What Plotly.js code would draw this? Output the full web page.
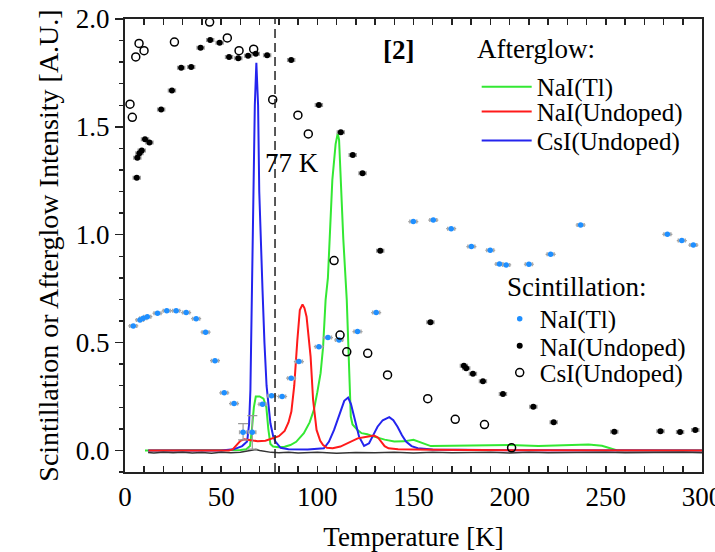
<!DOCTYPE html>
<html>
<head>
<meta charset="utf-8">
<script src="https://cdn.plot.ly/plotly-3.0.1.min.js"></script>
<style>html,body{margin:0;padding:0;background:#fff;}#plot{width:715px;height:552px;}</style>
</head>
<body>
<div id="plot"></div>
<script>
// ---- Afterglow curves ----
var glowNaITlT = [10.4,30,50,60,63,65,66,67,68,70,72,73.5,74.5,75.6,77,80,83,86,89,93,96,98.2,100,101.7,103,104.3,105.5,107.8,109.5,110.6,111.3,112.2,113.5,115.3,116.5,117.4,118.3,120.9,123,126,129.5,135,140,145,150,154,159,170,180,200,215,230,241,248,253,256,270,300];
var glowNaITlV = [0,0,0,0.002,0.005,0.02,0.1,0.2,0.25,0.25,0.24,0.2,0.1,0.03,0.018,0.015,0.017,0.025,0.04,0.08,0.13,0.188,0.27,0.358,0.48,0.698,0.8,1.254,1.42,1.47,1.44,1.254,0.98,0.698,0.435,0.157,0.12,0.095,0.08,0.075,0.064,0.05,0.041,0.042,0.049,0.035,0.02,0.022,0.022,0.025,0.02,0.024,0.027,0.022,0.008,0,0,0];

var glowNaIUT = [12.2,54,56,58,60,62,65,69,73,77,80,83,85,86.5,88,89.6,90.9,92.3,93.3,94.4,96.5,97.8,99.6,101.5,103,105,108,112,115.6,119,121,125,129.5,131.5,133,135,137,142,160,200,300];
var glowNaIUV = [0,0,0.005,0.025,0.045,0.052,0.048,0.043,0.045,0.055,0.066,0.09,0.13,0.18,0.3,0.51,0.651,0.677,0.66,0.62,0.435,0.234,0.095,0.045,0.025,0.012,0.01,0.018,0.033,0.05,0.056,0.062,0.069,0.06,0.041,0.02,0.01,0.005,0.003,0.001,0];

var glowCsIT = [12,50,56.5,60.9,63.5,64.5,65.2,66.1,66.7,67.5,68.3,69.2,69.8,70.6,71.5,72.5,73.6,75.6,77.1,78.2,80.9,85,95,103.4,106,108.7,112.2,114,116,117.5,119.1,121.7,124.3,126.9,129,131.3,134,137.4,139.5,141.7,144,146.1,149,152.2,160,200,300];
var glowCsIV = [0,0,0.005,0.02,0.041,0.12,0.28,0.744,1.2,1.6,1.797,1.6,1.2,0.95,0.744,0.5,0.3,0.126,0.064,0.041,0.012,0.006,0.004,0.01,0.04,0.095,0.188,0.23,0.245,0.215,0.157,0.064,0.021,0.033,0.07,0.11,0.14,0.154,0.14,0.11,0.07,0.041,0.02,0.01,0.004,0.001,0];

var baseT = [12,15,20,25,30,35,40,45,50,55,60,63,66,68,70,73,76,80,85,90,95,100,110,120,130,140,150,160,170,180,190,200,210,220,230,240,250,260,270,280,290,300];
var baseV = [-0.010,-0.012,-0.009,-0.011,-0.008,-0.012,-0.010,-0.013,-0.009,-0.011,-0.008,-0.004,0.002,0.004,0.0,-0.006,-0.009,-0.011,-0.008,-0.012,-0.010,-0.009,-0.013,-0.010,-0.011,-0.008,-0.012,-0.009,-0.011,-0.010,-0.008,-0.012,-0.009,-0.011,-0.010,-0.012,-0.009,-0.011,-0.010,-0.012,-0.009,-0.011];

// ---- Scintillation points ----
var sciNaITlT = [4.3,7.8,9.5,11.6,16.9,21.7,26.6,31.8,37.0,41.9,46.8,51.6,56.7,61.4,66.2,71.5,76.2,81.7,86.4,90.4,100.8,105.5,111.3,120.9,130.6,149.9,160.3,169.6,180.1,189.9,194.7,198.2,210.0,221.3,236.9,282.0,289.5,295.5];
var sciNaITlV = [0.577,0.605,0.613,0.620,0.636,0.647,0.648,0.639,0.611,0.548,0.416,0.267,0.217,0.084,0.084,0.214,0.253,0.250,0.335,0.412,0.481,0.523,0.512,0.551,0.639,1.061,1.068,1.028,0.945,0.928,0.864,0.860,0.863,0.909,1.045,1.002,0.973,0.952];
var sciNaITlErrUp = [0,0,0,0,0,0,0,0,0,0,0,0,0,0.04,0.077,0,0,0,0,0,0,0,0,0,0,0,0,0,0,0,0,0,0,0,0,0,0,0];
var sciNaITlErrDn = [0,0,0,0,0,0,0,0,0,0,0,0,0,0.035,0.078,0,0,0,0,0,0,0,0,0,0,0,0,0,0,0,0,0,0,0,0,0,0,0];

var sciNaIUT = [6.1,6.4,7.5,8.7,10.4,12.7,18.8,24.4,29.2,34.4,39.3,44.3,49.2,54.1,58.9,64.0,68.0,73.9,86.4,100.8,112.2,118.4,123.5,132.7,158.8,176.2,177.4,180.9,186.1,196.5,212.3,222.9,254.4,278.4,288.6,296.5];
var sciNaIUV = [1.264,1.357,1.378,1.390,1.442,1.427,1.581,1.669,1.774,1.778,1.867,1.903,1.890,1.824,1.818,1.830,1.839,1.832,1.810,1.601,1.475,1.370,1.285,0.926,0.594,0.393,0.381,0.355,0.321,0.262,0.202,0.131,0.087,0.089,0.086,0.095];

var sciCsIT = [2.6,3.8,5.6,7.3,9.9,25.7,44.0,53.2,59.3,66.9,76.8,89.9,95.3,108.7,111.8,115.3,126.2,136.5,157.4,171.7,186.9,201.0];
var sciCsIV = [1.605,1.544,1.824,1.887,1.853,1.893,1.986,1.912,1.853,1.860,1.626,1.554,1.467,0.880,0.535,0.457,0.450,0.350,0.240,0.144,0.120,0.012];

var names = ['NaI(Tl)','NaI(Undoped)','CsI(Undoped)'];
var groupTitles = ['Afterglow:','Scintillation:'];
var FONT = 'Liberation Serif, Times New Roman, serif';
var LFS = 25;

var traces = [
  {x: glowNaITlT, y: glowNaITlV, mode:'lines', name:names[0], line:{color:'#33e833', width:2}, legend:'legend'},
  {x: glowCsIT, y: glowCsIV, mode:'lines', name:names[2], line:{color:'#2424ee', width:2}, legend:'legend3'},
  {x: glowNaIUT, y: glowNaIUV, mode:'lines', name:names[1], line:{color:'#ff1a1a', width:2}, legend:'legend2'},
  {x: baseT, y: baseV, mode:'lines', line:{color:'#333333', width:1.5}, showlegend:false, hoverinfo:'skip'},
  {x: sciNaITlT, y: sciNaITlV, mode:'markers', name:names[0], legend:'legend4',
   marker:{color:'#1f8fff', size:5.5, symbol:'circle'},
   error_x:{type:'constant', value:1.8, color:'#aaaaaa', thickness:1.5, width:2},
   error_y:{type:'data', array:sciNaITlErrUp, arrayminus:sciNaITlErrDn, color:'#999999', thickness:1.2, width:5}},
  {x: sciNaIUT, y: sciNaIUV, mode:'markers', name:names[1], legend:'legend5',
   marker:{color:'#000000', size:6, symbol:'circle'},
   error_x:{type:'constant', value:1.8, color:'#999999', thickness:1.5, width:2}},
  {x: sciCsIT, y: sciCsIV, mode:'markers', name:names[2], legend:'legend6',
   marker:{color:'#000000', size:8, symbol:'circle-open', line:{width:1.5, color:'#000000'}}}
];

function leg(x, y, iw){
  return {x:x, y:y, xanchor:'left', yanchor:'middle', bgcolor:'rgba(0,0,0,0)', borderwidth:0,
          font:{family:FONT, size:LFS, color:'#000'}, itemwidth:iw};
}

var layout = {
  width:715, height:552,
  margin:{l:125, r:12.5, t:19, b:80},
  paper_bgcolor:'#fff', plot_bgcolor:'#fff',
  font:{family:FONT, size:27, color:'#000'},
  showlegend:true,
  legend:  leg(0.6095, 0.850, 50),
  legend2: leg(0.6095, 0.795, 50),
  legend3: leg(0.6095, 0.731, 50),
  legend4: leg(0.6494, 0.338, 30),
  legend5: leg(0.6494, 0.278, 30),
  legend6: leg(0.6494, 0.219, 30),
  xaxis:{range:[0,300], tick0:0, dtick:50, ticks:'inside', ticklen:6, tickwidth:1.5, tickcolor:'#222',
         minor:{dtick:10, ticks:'inside', ticklen:6, tickwidth:1.5, tickcolor:'#222'},
         showline:true, linewidth:2, linecolor:'#222', mirror:'ticks', showgrid:false, zeroline:false,
         ticklabeloverflow:'allow',
         tickfont:{family:FONT, size:27, color:'#000'},
         title:{text:'Temperature [K]', font:{family:FONT, size:27, color:'#000'}}},
  yaxis:{range:[-0.1,2.0], tick0:0, dtick:0.5, tickformat:'.1f', ticks:'outside', ticklen:8, tickwidth:1.5, tickcolor:'#222',
         minor:{dtick:0.1, ticks:'outside', ticklen:4, tickwidth:1.5, tickcolor:'#222'},
         showline:true, linewidth:2, linecolor:'#222', mirror:true, showgrid:false, zeroline:false,
         tickfont:{family:FONT, size:27, color:'#000'},
         title:{text:'Scintillation or Afterglow Intensity [A.U.]', font:{family:FONT, size:28, color:'#000'}}},
  shapes:[{type:'line', xref:'x', yref:'paper', x0:78, x1:78, y0:0, y1:1, line:{color:'#222', width:1.5, dash:'9px,5px'}}],
  annotations:[
    {x:0.606, y:0.9338, xref:'paper', yref:'paper', text:groupTitles[0], showarrow:false, xanchor:'left', yanchor:'middle', font:{family:FONT, size:27, color:'#000'}},
    {x:0.658, y:0.4084, xref:'paper', yref:'paper', text:groupTitles[1], showarrow:false, xanchor:'left', yanchor:'middle', font:{family:FONT, size:27, color:'#000'}},
    {x:71.7, y:1.333, xref:'x', yref:'y', text:'77 K', showarrow:false, xanchor:'left', yanchor:'middle', font:{family:FONT, size:27, color:'#000'}},
    {x:142.2, y:1.856, xref:'x', yref:'y', text:'<b>[2]</b>', showarrow:false, xanchor:'center', yanchor:'middle', font:{family:FONT, size:27, color:'#000'}}
  ]
};

Plotly.newPlot('plot', traces, layout, {displayModeBar:false, staticPlot:true});
</script>
</body>
</html>
